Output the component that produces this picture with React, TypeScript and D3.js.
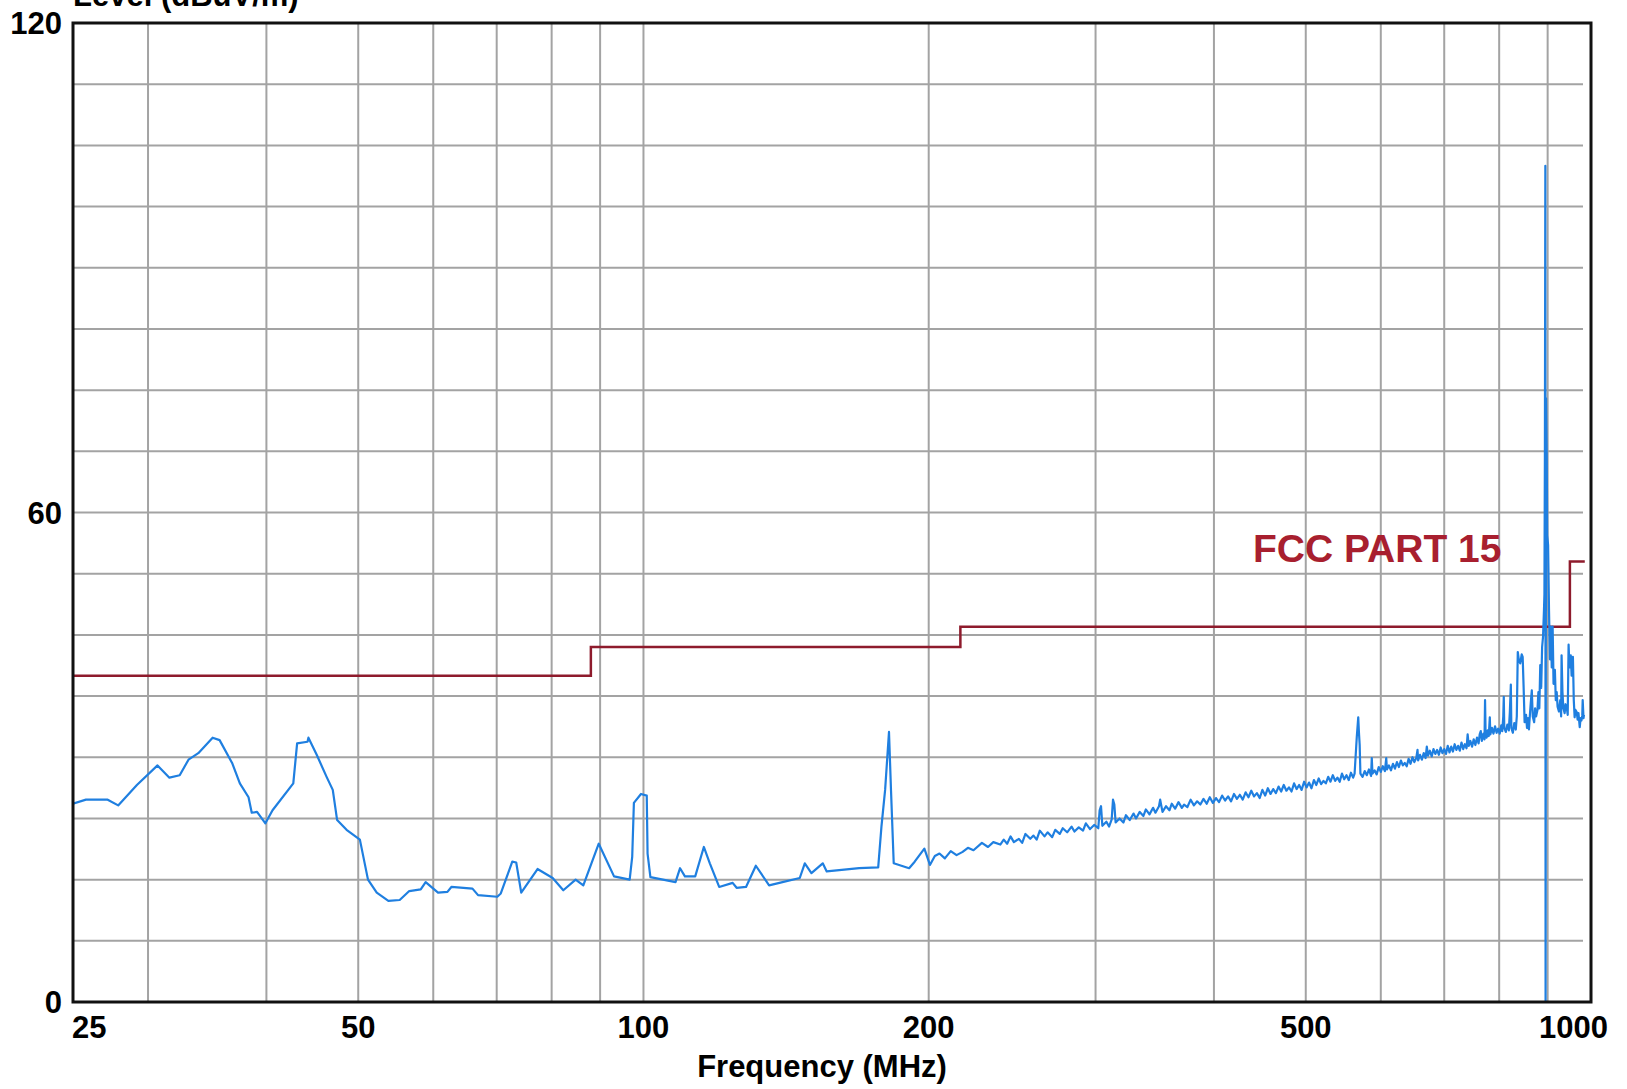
import React from "react";
import * as d3 from "d3";

// ---- data ----
const xTickLabels = [25, 50, 100, 200, 500, 1000];
const yTickLabels = [0, 60, 120];
const xGridFreqs = [30, 40, 50, 60, 70, 80, 90, 100, 200, 300, 400, 500, 600, 700, 800, 900];
const yGridStep = 7.5;

const limitFreqs = [25, 88, 216, 950, 985];
const limitLevels = [40, 43.5, 46, 54, 54];
const limitName = "FCC PART 15";

// [frequency MHz, level dBuV/m]
const lowBand: [number, number][] = [
  [25.0, 24.3], [25.8, 24.8], [27.2, 24.8], [27.9, 24.1], [29.2, 26.6], [30.7, 29.0], [31.6, 27.5], [32.4, 27.8],
  [33.1, 29.7], [33.9, 30.5], [35.1, 32.4], [35.7, 32.1], [36.8, 29.3], [37.5, 26.8], [38.3, 25.1], [38.6, 23.2],
  [39.1, 23.3], [39.9, 21.9], [40.6, 23.5], [42.7, 26.8], [43.1, 31.7], [44.2, 31.9], [44.3, 32.4], [45.2, 30.3],
  [46.3, 27.6], [47.0, 26.0], [47.5, 22.3], [48.6, 21.1], [50.2, 19.9], [51.2, 15.0], [52.3, 13.4], [53.8, 12.4],
  [55.3, 12.5], [56.6, 13.6], [58.2, 13.8], [58.9, 14.7], [60.7, 13.4], [62.1, 13.5], [62.7, 14.1], [66.0, 13.9],
  [66.9, 13.1], [70.1, 12.9], [70.7, 13.3], [72.7, 17.2], [73.4, 17.1], [74.3, 13.4], [77.3, 16.3], [80.2, 15.2],
  [82.3, 13.7], [84.8, 15.0], [86.4, 14.3], [89.7, 19.4], [93.1, 15.4], [96.7, 15.0], [97.3, 17.8], [97.7, 24.4],
  [99.4, 25.5], [100.8, 25.3], [101.0, 18.2], [101.7, 15.3], [108.1, 14.7], [109.3, 16.4], [110.6, 15.4],
  [113.4, 15.4], [115.8, 19.0], [117.5, 17.0], [120.2, 14.1], [124.2, 14.6], [125.4, 14.0], [128.3, 14.1],
  [131.4, 16.7], [135.7, 14.3], [140.2, 14.7], [146.2, 15.2], [148.0, 17.0], [150.4, 15.8], [154.6, 17.0],
  [156.1, 16.0], [168.9, 16.4], [176.9, 16.5], [178.3, 21.5], [179.9, 26.0], [181.6, 33.1], [182.5, 25.9],
  [183.7, 17.0], [190.7, 16.4], [193.3, 17.2], [197.9, 18.8], [200.6, 16.8], [203, 17.9], [205.3, 18.2],
  [208, 17.6], [211, 18.5], [214, 18.0], [217.2, 18.4], [220, 18.9], [223, 18.6], [227.6, 19.5], [231, 19.0],
  [234, 19.6], [238, 19.3],
];

const highBand: [number, number][] = [
  [240, 19.9], [242, 19.4], [244, 20.3], [246, 19.6], [249, 20.0], [251, 19.5], [253, 20.6], [256, 20.0],
  [258, 20.4], [260, 19.9], [262, 21.0], [265, 20.3], [267, 20.8], [270, 20.2], [272, 21.1], [275, 20.6],
  [277, 21.3], [280, 20.8], [283, 21.5], [285, 20.9], [288, 21.4], [291, 21.0], [293, 21.9], [296, 21.2],
  [299, 21.7], [302, 21.3], [303, 23.5], [304, 24.0], [305, 21.6], [308, 22.1], [310, 21.5], [312, 22.4],
  [313, 24.8], [314, 24.2], [315, 22.0], [318, 22.5], [321, 22.0], [323, 22.9], [326, 22.3], [329, 23.1],
  [331, 22.5], [334, 23.3], [337, 22.8], [339, 23.6], [342, 23.0], [345, 23.8], [347, 23.2], [350, 24.0],
  [351, 24.8], [353, 23.3], [356, 24.0], [359, 23.5], [361, 24.3], [364, 23.7], [367, 24.5], [370, 23.8],
  [372, 24.2], [375, 23.9], [378, 24.8], [381, 24.1], [384, 24.6], [387, 24.2], [390, 24.9], [393, 24.3],
  [396, 25.1], [399, 24.4], [402, 25.0], [405, 24.5], [408, 25.3], [411, 24.7], [414, 25.2], [417, 24.6],
  [420, 25.5], [423, 24.9], [426, 25.4], [429, 24.8], [432, 25.7], [435, 25.1], [438, 25.9], [441, 25.2],
  [444, 25.6], [447, 25.0], [450, 26.0], [453, 25.3], [456, 26.2], [459, 25.5], [462, 26.1], [465, 25.6],
  [468, 26.4], [471, 25.8], [474, 26.6], [477, 25.9], [480, 26.3], [483, 25.8], [486, 26.8], [489, 26.1],
  [492, 26.6], [495, 26.0], [498, 27.0], [501, 26.3], [504, 26.9], [507, 26.2], [510, 27.2], [513, 26.6],
  [516, 27.4], [519, 26.7], [522, 27.1], [525, 26.8], [528, 27.6], [531, 27.0], [534, 27.8], [537, 27.1],
  [540, 27.5], [543, 27.0], [546, 28.0], [549, 27.3], [552, 27.8], [555, 27.2], [558, 28.1], [561, 27.5],
  [563, 28.0], [565, 31.0], [566, 32.5], [568, 34.9], [569, 33.0], [570, 31.5], [571, 28.0], [574, 27.6],
  [577, 28.3], [580, 27.8], [583, 28.5], [586, 27.7], [587, 29.9], [588, 28.0], [591, 28.4], [594, 27.9],
  [597, 28.8], [600, 28.2], [603, 28.9], [606, 28.3], [608, 29.9], [609, 28.5], [612, 29.0], [615, 28.4],
  [618, 29.2], [621, 28.6], [624, 29.4], [627, 28.8], [630, 29.6], [633, 29.0], [636, 29.3], [639, 28.9],
  [642, 29.8], [645, 29.2], [648, 30.0], [651, 29.4], [654, 29.9], [656, 30.9], [657, 29.6], [660, 30.3],
  [663, 29.7], [666, 30.5], [669, 29.9], [671, 31.3], [673, 30.2], [676, 30.8], [679, 30.1], [682, 31.0],
  [685, 30.4], [688, 30.9], [691, 30.3], [694, 31.2], [697, 30.5], [700, 31.0], [703, 30.4], [706, 31.4],
  [709, 30.6], [712, 31.3], [715, 30.7], [718, 31.6], [721, 30.9], [724, 31.4], [727, 30.8], [730, 31.8],
  [733, 31.0], [736, 31.6], [739, 31.1], [741, 32.8], [743, 31.4], [746, 32.0], [749, 31.3], [752, 32.2],
  [755, 31.5], [758, 32.4], [761, 31.7], [763, 32.8], [765, 33.2], [767, 32.0], [770, 32.9], [772, 32.2],
  [773, 37.0], [774, 33.0], [776, 32.4], [778, 33.3], [780, 32.6], [782, 34.9], [783, 32.8], [786, 33.6],
  [789, 32.9], [792, 33.8], [795, 33.0], [798, 33.5], [801, 32.9], [804, 33.9], [806, 33.2], [808, 35.0],
  [809, 37.4], [810, 33.6], [813, 33.1], [816, 34.0], [819, 33.3], [821, 35.5], [823, 38.9], [824, 33.6],
  [827, 33.0], [830, 34.2], [833, 33.4], [835, 35.0], [837, 42.9], [839, 42.0], [842, 41.5], [845, 42.6],
  [847, 42.3], [849, 38.5], [851, 34.3], [854, 35.2], [856, 33.6], [858, 34.8], [860, 33.4], [862, 35.2],
  [864, 36.8], [866, 38.2], [868, 35.0], [871, 34.3], [873, 36.0], [875, 35.0], [878, 35.8], [880, 38.0],
  [882, 36.0], [884, 41.3], [886, 38.5], [888, 43.5], [890, 44.8], [892, 48.0], [893, 50.0], [894, 66.8],
  [895, 102.5], [895.5, 0], [896.5, 74.0], [898, 66.8], [899, 57.2], [901, 56.0], [903, 48.0], [905, 42.0],
  [907, 46.0], [909, 41.0], [911, 46.0], [913, 39.0], [916, 40.7], [918, 37.0], [920, 38.0], [922, 36.2],
  [925, 35.6], [928, 37.0], [930, 35.0], [931, 42.5], [933, 38.0], [935, 36.0], [938, 35.4], [940, 36.5],
  [943, 36.0], [945, 35.2], [947, 43.8], [949, 41.0], [952, 42.5], [954, 40.0], [957, 42.3], [959, 37.0],
  [961, 34.9], [963, 35.8], [966, 35.5], [968, 34.6], [970, 35.4], [973, 33.7], [975, 34.8], [977, 34.5],
  [979, 35.1], [980, 37.0], [982, 34.8], [983, 35.2],
];

// ---- layout ----
const W = 1627;
const H = 1089;
const L = 73;
const R = 1591;
const T = 23;
const B = 1002;
const FONT = "'Liberation Sans', Arial, sans-serif";

export default function App() {
  const x = d3.scaleLog().domain([25, 1000]).range([L, R]);
  const y = d3.scaleLinear().domain([0, 120]).range([B, T]);

  const yGrid = d3.range(yGridStep, 120, yGridStep);

  const tracePts: [number, number][] = [...lowBand, ...highBand];
  const limitPts: [number, number][] = limitFreqs.map((f, i) => [f, limitLevels[i]]);

  const traceLine = d3
    .line<[number, number]>()
    .x((d) => x(d[0]))
    .y((d) => y(d[1]));
  const limitLine = d3
    .line<[number, number]>()
    .x((d) => x(d[0]))
    .y((d) => y(d[1]))
    .curve(d3.curveStepAfter);

  return (
    <svg
      width={W}
      height={H}
      style={{ position: "absolute", left: 0, top: 0, background: "#fff" }}
      fontFamily={FONT}
    >
      <defs>
        <clipPath id="plotClip">
          <rect x={L} y={T} width={R - L} height={B - T} />
        </clipPath>
      </defs>
      <rect x={0} y={0} width={W} height={H} fill="#fff" />
      {/* grid */}
      {xGridFreqs.map((f) => (
        <line key={"gx" + f} x1={x(f)} x2={x(f)} y1={T} y2={B} stroke="#a3a3a3" strokeWidth={2} />
      ))}
      {yGrid.map((v) => (
        <line key={"gy" + v} x1={L} x2={R - 8} y1={y(v)} y2={y(v)} stroke="#a3a3a3" strokeWidth={2} />
      ))}
      {/* limit */}
      <path d={limitLine(limitPts) || ""} fill="none" stroke="#8e1b2c" strokeWidth={2.5} />
      <text x={1253} y={562} fontSize={39} fontWeight="bold" fill="#a81f2f">
        {limitName}
      </text>
      {/* trace */}
      <g clipPath="url(#plotClip)">
        <path d={traceLine(tracePts) || ""} fill="none" stroke="#1f7fe0" strokeWidth={2.2} strokeLinejoin="round" />
      </g>
      {/* frame */}
      <rect x={L} y={T} width={R - L} height={B - T} fill="none" stroke="#111" strokeWidth={3} />
      {/* y ticks */}
      {yTickLabels.map((v) => (
        <text key={"yl" + v} x={62} y={y(v)} dy="0.36em" textAnchor="end" fontSize={31} fontWeight="bold" fill="#000">
          {v}
        </text>
      ))}
      {/* x ticks */}
      {xTickLabels.map((f, i) => {
        const anchor = i === 0 ? "start" : i === xTickLabels.length - 1 ? "end" : "middle";
        const px = i === 0 ? x(f) - 1 : i === xTickLabels.length - 1 ? x(f) + 17 : x(f);
        return (
          <text key={"xl" + f} x={px} y={1038} textAnchor={anchor} fontSize={31} fontWeight="bold" fill="#000">
            {f}
          </text>
        );
      })}
      <text x={822} y={1077} textAnchor="middle" fontSize={31} fontWeight="bold" fill="#000">
        Frequency (MHz)
      </text>
      <text x={L} y={6} fontSize={31} fontWeight="bold" fill="#000">
        Level (dBuV/m)
      </text>
    </svg>
  );
}
